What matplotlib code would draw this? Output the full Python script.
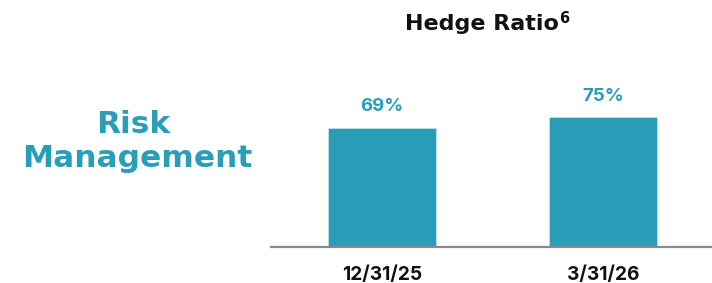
import matplotlib
matplotlib.use("Agg")
import matplotlib.pyplot as plt
from matplotlib.transforms import blended_transform_factory

categories = ["12/31/25", "3/31/26"]
values = [69, 75]
value_labels = ["69%", "75%"]
title = "Hedge Ratio"
title_sup = "6"
side_lines = ["Risk", "Management"]

TEAL = "#2A9DB9"
W, H = 712, 283
fig = plt.figure(figsize=(W / 100, H / 100), dpi=100)
fig.patch.set_facecolor("white")

# axes in pixel coordinates
ax_left, ax_right = 271, 712
ax_bottom_px, ax_top_px = 246.7, 74.2
ax = fig.add_axes([ax_left / W, (H - ax_bottom_px) / H,
                   (ax_right - ax_left) / W, (ax_bottom_px - ax_top_px) / H])
x = list(range(len(categories)))
ax.bar(x, values, width=0.489, color=TEAL, edgecolor="#BFE3EC", linewidth=0.6, zorder=2)
ax.set_xlim(-0.503, 1.492)
ax.set_ylim(0, 100)
for s in ["top", "right", "left"]:
    ax.spines[s].set_visible(False)
ax.spines["bottom"].set_color("#8A8A8A")
ax.spines["bottom"].set_linewidth(1.6)
ax.set_yticks([])
ax.set_xticks(x)
ax.set_xticklabels([])
ax.tick_params(axis="x", length=0)
ax.patch.set_alpha(0)

trans = blended_transform_factory(ax.transData, fig.transFigure)
for xi, cat in zip(x, categories):
    ax.text(xi, (H - 280) / H, cat, transform=trans, ha="center", va="baseline",
            fontfamily="Inter", fontweight="bold", fontsize=13.8, color="#111111")

for xi, v, lab in zip(x, values, value_labels):
    ax.annotate(lab, (xi, v), xytext=(0, 9.1), textcoords="offset points",
                ha="center", va="bottom", fontfamily="Inter", fontweight="bold",
                fontsize=13.4, color=TEAL)

# title
t = fig.text(482 / W, (H - 30) / H, title, ha="center", va="baseline",
             fontfamily="DejaVu Sans", fontweight="bold", fontsize=16, color="#111111")
fig.canvas.draw()
bb = t.get_window_extent()
fig.text((bb.x1 + 0.5) / W, (H - 23) / H, title_sup, ha="left", va="baseline",
         fontfamily="DejaVu Sans", fontweight="bold", fontsize=10.5, color="#111111")

# side heading
fig.text(133.5 / W, (H - 132.7) / H, side_lines[0], ha="center", va="baseline",
         fontfamily="DejaVu Sans", fontweight="bold", fontsize=22.5, color=TEAL)
fig.text(137.5 / W, (H - 167) / H, side_lines[1], ha="center", va="baseline",
         fontfamily="DejaVu Sans", fontweight="bold", fontsize=22.5, color=TEAL)

fig.savefig("out.png", dpi=100, facecolor="white")
